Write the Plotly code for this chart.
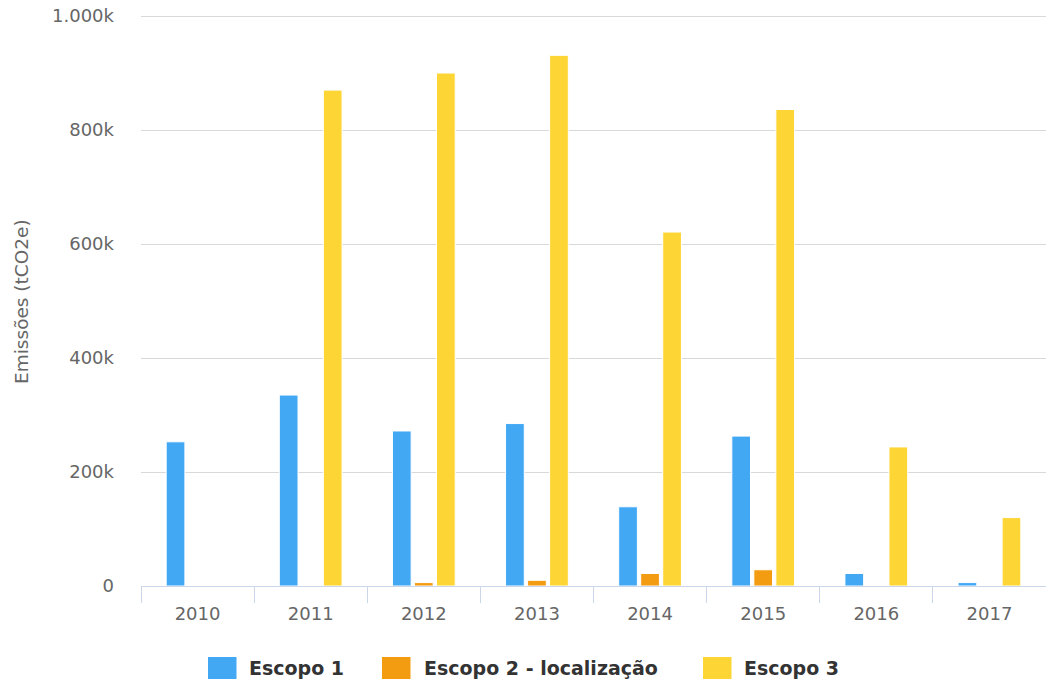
import plotly.graph_objects as go

# Annual emissions by scope (tCO2e)
years = ["2010", "2011", "2012", "2013", "2014", "2015", "2016", "2017"]
escopo1 = [253000, 335000, 272000, 285000, 139000, 263000, 22000, 6000]
escopo2 = [None, None, 6000, 10000, 22000, 28500, None, None]
escopo3 = [None, 870000, 900000, 931000, 621000, 836000, 244000, 120000]

series_names = ["Escopo 1", "Escopo 2 - localização", "Escopo 3"]
series_colors = ["#42A8F4", "#F39C12", "#FDD535"]

y_tickvals = [0, 200000, 400000, 600000, 800000, 1000000]
y_ticktext = ["0", "200k", "400k", "600k", "800k", "1.000k"]

W, H = 1046, 684
ML, MR, MT, MB = 141, 0, 15, 98
PW, PH = W - ML - MR, H - MT - MB

FONT = "DejaVu Sans"

fig = go.Figure()
for name, vals, color in zip(series_names, [escopo1, escopo2, escopo3], series_colors):
    fig.add_trace(go.Bar(
        x=years, y=vals, name=name,
        marker=dict(color=color, line=dict(color="white", width=1)),
        showlegend=False,
    ))

fig.update_layout(
    width=W, height=H,
    margin=dict(l=ML, r=MR, t=MT, b=MB),
    paper_bgcolor="white", plot_bgcolor="white",
    barmode="group", bargap=0.416, bargroupgap=0.15,
    font=dict(family=FONT, color="#666666", size=18),
)

fig.update_xaxes(
    type="category",
    showline=True, linecolor="#ccd6eb", linewidth=1,
    showgrid=False,
    ticks="outside", tickson="boundaries", ticklen=16, tickcolor="#ccd6eb", tickwidth=1,
    tickfont=dict(family=FONT, size=18, color="#666666"),
    ticklabelstandoff=11,
)
# a little headroom above 1.000k so its gridline is drawn inside the plot
fig.update_yaxes(
    range=[0, 1001800],
    tickvals=y_tickvals, ticktext=y_ticktext,
    showgrid=True, gridcolor="#d9d9d9", gridwidth=1,
    zeroline=False, showline=False, ticks="",
    tickfont=dict(family=FONT, size=18, color="#666666"),
    ticklabelstandoff=26,
)


def px_x(px):
    return (px - ML) / PW


def px_y(py):
    return (H - MB - py) / PH


# Y axis title
fig.add_annotation(
    text="Emissões (tCO2e)", textangle=-90,
    xref="paper", yref="paper", x=px_x(21), y=px_y(302),
    xanchor="center", yanchor="middle", showarrow=False,
    font=dict(family=FONT, size=18.5, color="#666666"),
)

# Legend: colour swatch followed by label
swatch_left = [208, 382, 703]
label_left = [247, 422, 742]
sw_w, sw_top, sw_bot = 28.5, 657, 679
for name, color, sx, tx in zip(series_names, series_colors, swatch_left, label_left):
    fig.add_shape(
        type="rect", xref="paper", yref="paper",
        x0=px_x(sx), x1=px_x(sx + sw_w), y0=px_y(sw_bot), y1=px_y(sw_top),
        fillcolor=color, line=dict(width=0),
    )
    fig.add_annotation(
        text=f"<b>{name}</b>", xref="paper", yref="paper",
        x=px_x(tx), y=px_y(668), xanchor="left", yanchor="middle",
        showarrow=False, font=dict(family=FONT, size=19, color="#333333"),
    )

fig.write_html("out.html")
